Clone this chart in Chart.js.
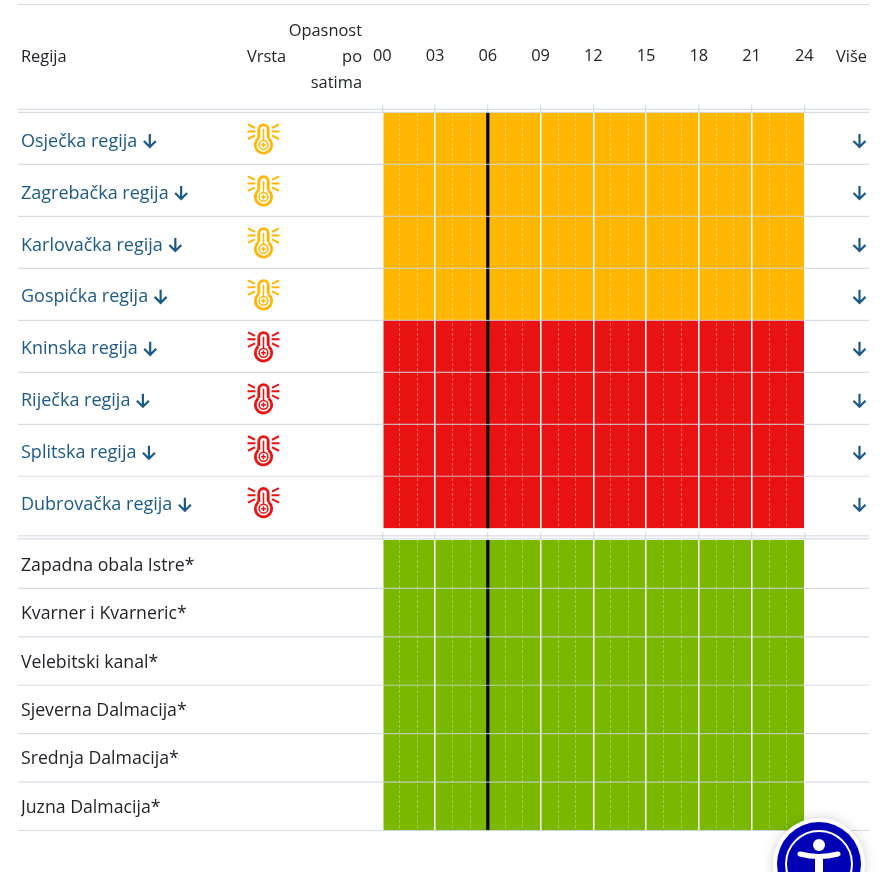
<!DOCTYPE html>
<html>
<head>
<meta charset="utf-8">
<title>Opasnost po satima</title>
<script src="https://cdn.jsdelivr.net/npm/chart.js@4"></script>
<style>
  html, body { margin: 0; padding: 0; background: #fff; }
  body { width: 890px; height: 872px; position: relative; overflow: hidden; font-family: "Open Sans", sans-serif; color: #212529; }
  canvas { position: absolute; left: 0; }
  #chartTop { top: 0; }
  #chartBottom { top: 529px; }
  .head { position: absolute; font-size: 16.4px; line-height: 26px; }
  #badge { position: absolute; left: 771px; top: 816px; filter: drop-shadow(0 0 6px rgba(0,0,0,.18)); }
</style>
</head>
<body>
<canvas id="chartTop" width="890" height="539"></canvas>
<canvas id="chartBottom" width="890" height="343"></canvas>

<div class="head" style="left:21px;top:43px">Regija</div>
<div class="head" style="left:247px;top:43px">Vrsta</div>
<div class="head" style="right:528px;top:17px;text-align:right">Opasnost<br>po<br>satima</div>
<div class="head" style="left:836px;top:43px">Više</div>

<svg id="badge" width="96" height="96" viewBox="0 0 96 96">
  <circle cx="48" cy="48" r="46" fill="#fff"/>
  <circle cx="48" cy="48" r="42" fill="#0000b4"/>
  <circle cx="48" cy="48" r="33" fill="none" stroke="#fff" stroke-width="2"/>
  <circle cx="48" cy="29" r="6" fill="#fff"/>
  <path d="M29 38 Q48 43 67 38" fill="none" stroke="#fff" stroke-width="5" stroke-linecap="round"/>
  <path d="M44 40 h8 v30 h-8 z" fill="#fff"/>
</svg>

<script>
const hourLabels = ['00', '03', '06', '09', '12', '15', '18', '21', '24'];
const hourRange = [0, 24];
const nowHour = 6;

const regions = ['Osječka regija', 'Zagrebačka regija', 'Karlovačka regija', 'Gospićka regija',
  'Kninska regija', 'Riječka regija', 'Splitska regija', 'Dubrovačka regija'];
const regionLevels = ['orange', 'orange', 'orange', 'orange', 'red', 'red', 'red', 'red'];

const seaAreas = ['Zapadna obala Istre*', 'Kvarner i Kvarneric*', 'Velebitski kanal*',
  'Sjeverna Dalmacija*', 'Srednja Dalmacija*', 'Juzna Dalmacija*'];
const seaLevels = ['green', 'green', 'green', 'green', 'green', 'green'];

const levelColors = { orange: '#ffb703', red: '#e91313', green: '#7ab800' };
const labelFont = '"Open Sans", sans-serif';
const linkColor = '#1c5a85';
const lineColor = '#cfd5de';

// Arrow next to a region name and in the "Više" column
function drawArrow(ctx, x, y) {
  ctx.save();
  ctx.strokeStyle = linkColor;
  ctx.lineWidth = 2.2;
  ctx.beginPath();
  ctx.moveTo(x, y - 7);
  ctx.lineTo(x, y + 6);
  ctx.moveTo(x - 6, y);
  ctx.lineTo(x, y + 6);
  ctx.lineTo(x + 6, y);
  ctx.stroke();
  ctx.restore();
}

// Thermometer icon in the "Vrsta" column
function drawThermometer(ctx, x, y, color) {
  ctx.save();
  ctx.translate(x, y);
  ctx.strokeStyle = color;
  ctx.lineWidth = 2.8;
  ctx.beginPath();
  ctx.arc(0, 6, 8.2, -Math.PI / 2 + 0.65, -Math.PI / 2 - 0.65 + Math.PI * 2);
  ctx.stroke();
  ctx.beginPath();
  ctx.moveTo(-4.7, -0.8);
  ctx.lineTo(-4.7, -9.5);
  ctx.arc(0, -9.5, 4.7, Math.PI, 0);
  ctx.lineTo(4.7, -0.8);
  ctx.stroke();
  ctx.lineWidth = 1.5;
  ctx.beginPath();
  ctx.arc(0, 6, 4.4, 0, Math.PI * 2);
  ctx.moveTo(0, 1.5);
  ctx.lineTo(0, -10);
  ctx.moveTo(-2.4, 6);
  ctx.lineTo(2.4, 6);
  ctx.moveTo(0, 3.6);
  ctx.lineTo(0, 8.4);
  ctx.stroke();
  ctx.lineWidth = 2;
  [-1, 1].forEach(side => {
    ctx.beginPath();
    ctx.moveTo(side * 15.5, -14.5);
    ctx.lineTo(side * 8.5, -11);
    ctx.moveTo(side * 16, -7.5);
    ctx.lineTo(side * 8, -7.5);
    ctx.moveTo(side * 15.5, 0);
    ctx.lineTo(side * 8.5, -3.5);
    ctx.stroke();
  });
  ctx.restore();
}

// Row lines across the whole table, the "now" line, and the icons of the region rows
const tablePlugin = {
  id: 'tablePlugin',
  afterDraw(chart, args, opts) {
    const { ctx, chartArea, scales: { x, y } } = chart;
    const labels = y.getLabels();
    const rowHeight = chartArea.height / labels.length;

    ctx.save();
    ctx.fillStyle = '#000';
    ctx.fillRect(x.getPixelForValue(nowHour) - 1.6, chartArea.top, 3.2, chartArea.height);

    ctx.strokeStyle = 'rgba(205,212,222,0.8)';
    ctx.lineWidth = 1.2;
    const hLine = lineY => {
      ctx.beginPath();
      ctx.moveTo(18, lineY);
      ctx.lineTo(869, lineY);
      ctx.stroke();
    };
    const lastRow = opts.closeBottom ? labels.length : labels.length - 1;
    for (let i = 1; i <= lastRow; i++) {
      hLine(chartArea.top + i * rowHeight);
    }
    // double rule that closes the header
    hLine(chartArea.top - opts.ruleShift);
    hLine(chartArea.top - opts.ruleShift - 3);
    if (opts.topRule) hLine(4.5);

    if (opts.icons) {
      ctx.font = `${opts.labelSize}px ${labelFont}`;
      labels.forEach((label, i) => {
        const rowMid = y.getPixelForValue(i);
        const arrowY = rowMid + 2.5;
        drawArrow(ctx, 21 + ctx.measureText(label).width + 12.5, arrowY);
        drawArrow(ctx, 859.5, arrowY);
        drawThermometer(ctx, 263.5, rowMid + 0.5, levelColors[regionLevels[i]]);
      });
    }
    ctx.restore();
  }
};

function makeChart(canvasId, labels, levels, opts) {
  const ctx = document.getElementById(canvasId).getContext('2d');
  return new Chart(ctx, {
    type: 'bar',
    data: {
      labels,
      datasets: [{
        data: labels.map(() => hourRange),
        backgroundColor: levels.map(level => levelColors[level]),
        borderWidth: 0,
        barPercentage: 1,
        categoryPercentage: 1
      }]
    },
    options: {
      indexAxis: 'y',
      responsive: false,
      animation: false,
      devicePixelRatio: 1,
      layout: { padding: { left: 21, top: 0, right: 85.7, bottom: opts.bottomPad } },
      plugins: {
        legend: { display: false },
        tooltip: { enabled: false },
        tablePlugin: {
          icons: opts.icons, topRule: opts.topRule, closeBottom: opts.closeBottom,
          ruleShift: opts.ruleShift, labelSize: opts.labelSize
        }
      },
      scales: {
        x: {
          type: 'linear',
          position: 'top',
          min: hourRange[0],
          max: hourRange[1],
          afterFit: scale => { scale.height = opts.headHeight; },
          border: { display: false },
          grid: { z: 1, color: '#fff', lineWidth: 1.5, tickColor: lineColor, tickWidth: 1, tickLength: 8 },
          ticks: {
            display: opts.showHours,
            stepSize: 3,
            autoSkip: false,
            maxRotation: 0,
            padding: 38,
            color: '#212529',
            font: { family: labelFont, size: 16.4 },
            callback: value => hourLabels[value / 3]
          }
        },
        // dashed hour lines between the three hour marks
        xHours: {
          type: 'linear',
          position: 'top',
          min: hourRange[0],
          max: hourRange[1],
          afterFit: scale => { scale.height = 0; },
          border: { display: false, dash: [3, 2] },
          grid: {
            z: 1,
            color: c => c.tick.value % 3 === 0 ? 'transparent' : 'rgba(255,255,255,0.33)',
            tickColor: c => c.tick.value % 3 === 0 ? 'transparent' : lineColor,
            tickBorderDash: [],
            lineWidth: 1,
            tickWidth: 1,
            tickLength: 8
          },
          ticks: { display: false, stepSize: 1, autoSkip: false }
        },
        y: {
          type: 'category',
          position: 'left',
          afterFit: scale => { scale.width = 361.3; },
          border: { display: false },
          grid: { display: false },
          ticks: {
            crossAlign: 'far',
            padding: 0,
            labelOffset: opts.labelShift,
            color: opts.labelColor,
            font: { family: labelFont, size: opts.labelSize },
            autoSkip: false
          }
        }
      }
    },
    plugins: [tablePlugin]
  });
}

makeChart('chartTop', regions, regionLevels, {
  bottomPad: 10.5, headHeight: 112.5, showHours: true, icons: true, topRule: true,
  closeBottom: false, ruleShift: 0.2, labelColor: linkColor, labelShift: 3, labelSize: 18
});
makeChart('chartBottom', seaAreas, seaLevels, {
  bottomPad: 41.5, headHeight: 11, showHours: false, icons: false, topRule: false,
  closeBottom: true, ruleShift: 1.2, labelColor: '#212529', labelShift: 1.5, labelSize: 17.7
});
</script>
</body>
</html>
